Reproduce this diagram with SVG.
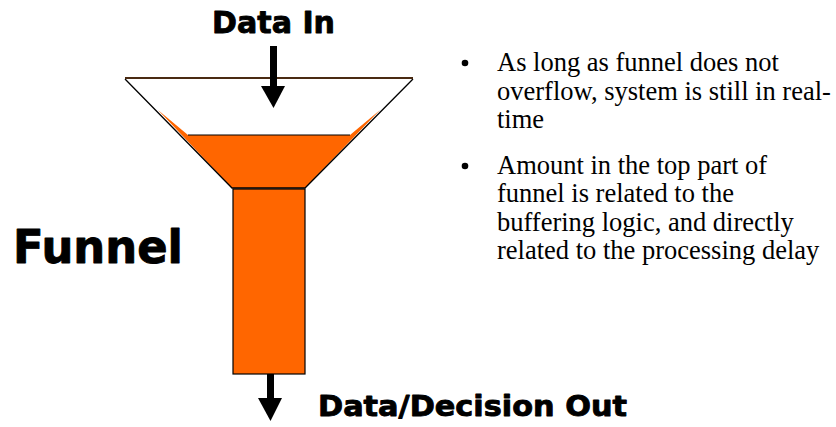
<svg xmlns="http://www.w3.org/2000/svg" width="836" height="427" viewBox="0 0 836 427">
<style>
.lbl{font-family:"DejaVu Sans","Liberation Sans",sans-serif;font-weight:bold;fill:#000;stroke:#000;stroke-width:0.9;stroke-linejoin:round}
.body{font-family:"Liberation Serif","Times New Roman",serif;font-size:26.5px;fill:#000}
.orange{fill:#FF6600}
.edge{stroke:#000;stroke-width:1.3;fill:none}
</style>
<rect width="836" height="427" fill="#fff"/>
<g id="funnel">
  <polygon class="orange" points="158,110 188,135 350,135 380,110 305,188 232,188"/>
  <polyline class="edge" points="125,79 232,188 305,188 413,79"/>
  <line x1="188" y1="135" x2="350" y2="135" stroke="#000" stroke-width="1.2"/>
  <line x1="125" y1="78" x2="413" y2="78" stroke="#4a2a12" stroke-width="2.2"/>
  <rect x="233" y="189" width="72" height="185" class="orange" stroke="#000" stroke-width="1.2"/>
</g>
<g id="connectors">
  <rect x="270" y="46" width="7" height="41" fill="#000"/>
  <polygon points="261,86 285,86 273.5,108" fill="#000"/>
  <rect x="267" y="374" width="7" height="25" fill="#000"/>
  <polygon points="258,398 282,398 270.5,421" fill="#000"/>
</g>
<g id="label-data-in"><text class="lbl" x="212" y="33" font-size="31" textLength="123" lengthAdjust="spacingAndGlyphs">Data In</text></g>
<g id="label-funnel"><text class="lbl" x="13" y="263" font-size="46" textLength="170" lengthAdjust="spacingAndGlyphs">Funnel</text></g>
<g id="label-out"><text class="lbl" x="318" y="416" font-size="29" textLength="309" lengthAdjust="spacingAndGlyphs">Data/Decision Out</text></g>
<g id="bullets">
  <circle cx="465" cy="63" r="3.3" fill="#000"/>
  <circle cx="465" cy="166" r="3.3" fill="#000"/>
  <text class="body" x="497" y="71">As long as funnel does not</text>
  <text class="body" x="497" y="100">overflow, system is still in real-</text>
  <text class="body" x="497" y="128">time</text>
  <text class="body" x="497" y="174">Amount in the top part of</text>
  <text class="body" x="497" y="202">funnel is related to the</text>
  <text class="body" x="497" y="231">buffering logic, and directly</text>
  <text class="body" x="497" y="259">related to the processing delay</text>
</g>
</svg>
